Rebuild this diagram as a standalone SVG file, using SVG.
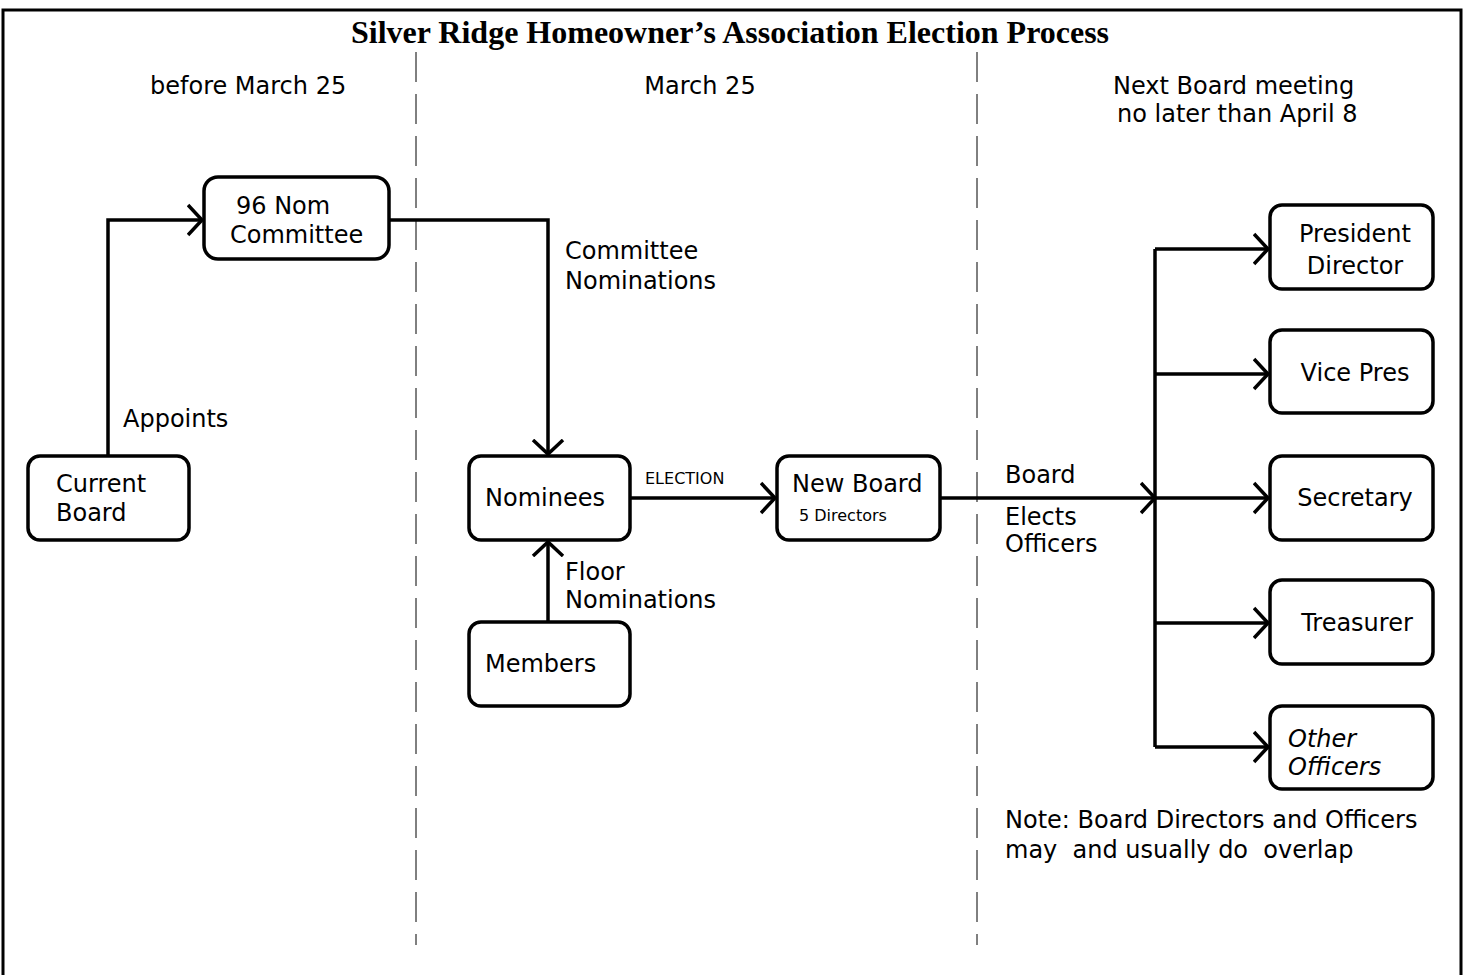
<svg xmlns="http://www.w3.org/2000/svg" width="1466" height="975" viewBox="0 0 1466 975">
<defs>
<marker id="arr" markerUnits="userSpaceOnUse" markerWidth="22" markerHeight="36" refX="15" refY="16" orient="auto" viewBox="0 0 22 32">
<path d="M1,1 L15,16 L1,31" fill="none" stroke="#000" stroke-width="3.5"/>
</marker>
</defs>
<style>
.node rect{fill:#fff;stroke:#000;stroke-width:3.5}
text{font-family:"DejaVu Sans",sans-serif;font-size:24px;fill:#000}
.sm{font-size:16px}
.title{font-family:"Liberation Serif",serif;font-weight:bold;font-size:32px}
.conn path{fill:none;stroke:#000;stroke-width:3.5}
.dash{stroke:#000;stroke-width:1;stroke-dasharray:30 12}
</style>
<rect width="1466" height="975" fill="#fff"/>
<path d="M3,980 V10 H1461 V980" fill="none" stroke="#000" stroke-width="3"/>
<text class="title" x="730" y="43" text-anchor="middle">Silver Ridge Homeowner’s Association Election Process</text>
<line class="dash" x1="416" y1="52" x2="416" y2="945"/>
<line class="dash" x1="977" y1="52" x2="977" y2="945"/>
<text x="150" y="94">before March 25</text>
<text x="700" y="94" text-anchor="middle">March 25</text>
<text x="1113" y="94">Next Board meeting</text>
<text x="1117" y="122">no later than April 8</text>

<g class="conn">
<path d="M108,456 V220 H202" marker-end="url(#arr)"/>
<path d="M389,220 H548 V454" marker-end="url(#arr)"/>
<path d="M548,622 V542" marker-end="url(#arr)"/>
<path d="M630,498 H775" marker-end="url(#arr)"/>
<path d="M940,498 H1155" marker-end="url(#arr)"/>
<path d="M1155,249 V747"/>
<path d="M1155,249 H1268" marker-end="url(#arr)"/>
<path d="M1155,374 H1268" marker-end="url(#arr)"/>
<path d="M1155,498 H1268" marker-end="url(#arr)"/>
<path d="M1155,623 H1268" marker-end="url(#arr)"/>
<path d="M1155,747 H1268" marker-end="url(#arr)"/>
</g>

<text x="123" y="427">Appoints</text>
<text x="565" y="259">Committee</text>
<text x="565" y="289">Nominations</text>
<text class="sm" x="645" y="484">ELECTION</text>
<text x="565" y="580">Floor</text>
<text x="565" y="608">Nominations</text>
<text x="1005" y="483">Board</text>
<text x="1005" y="525">Elects</text>
<text x="1005" y="552">Officers</text>
<text x="1005" y="828">Note: Board Directors and Officers</text>
<text x="1005" y="858" xml:space="preserve">may  and usually do  overlap</text>

<g id="nomcommittee" class="node"><rect x="204" y="177" width="185" height="82" rx="14"/><text x="236" y="214">96 Nom</text><text x="230" y="243">Committee</text></g>
<g id="currentboard" class="node"><rect x="28" y="456" width="161" height="84" rx="12"/><text x="56" y="492">Current</text><text x="56" y="521">Board</text></g>
<g id="nominees" class="node"><rect x="469" y="456" width="161" height="84" rx="12"/><text x="485" y="506">Nominees</text></g>
<g id="newboard" class="node"><rect x="777" y="456" width="163" height="84" rx="12"/><text x="792" y="492">New Board</text><text class="sm" x="799" y="521">5 Directors</text></g>
<g id="members" class="node"><rect x="469" y="622" width="161" height="84" rx="12"/><text x="485" y="672">Members</text></g>
<g id="president" class="node"><rect x="1270" y="205" width="163" height="84" rx="12"/><text x="1355" y="242" text-anchor="middle">President</text><text x="1355" y="274" text-anchor="middle">Director</text></g>
<g id="vicepres" class="node"><rect x="1270" y="330" width="163" height="83" rx="12"/><text x="1355" y="381" text-anchor="middle">Vice Pres</text></g>
<g id="secretary" class="node"><rect x="1270" y="456" width="163" height="84" rx="12"/><text x="1355" y="506" text-anchor="middle">Secretary</text></g>
<g id="treasurer" class="node"><rect x="1270" y="580" width="163" height="84" rx="12"/><text x="1357" y="631" text-anchor="middle">Treasurer</text></g>
<g id="otherofficers" class="node"><rect x="1270" y="706" width="163" height="83" rx="12"/><text x="1288" y="747" font-style="italic">Other</text><text x="1288" y="775" font-style="italic">Officers</text></g>
</svg>
